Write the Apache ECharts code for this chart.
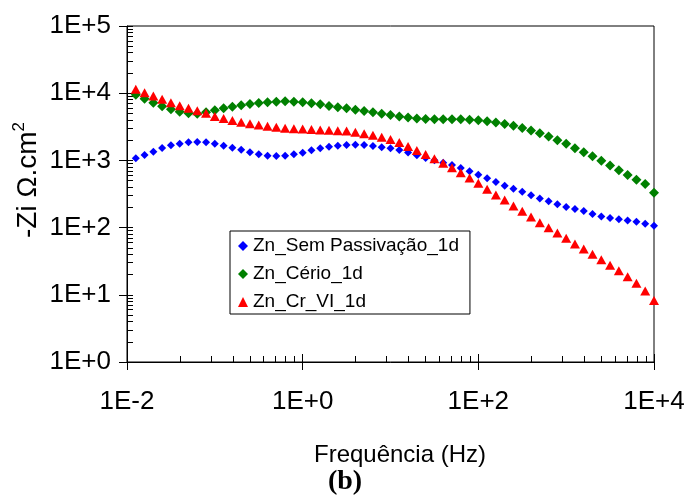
<!DOCTYPE html>
<html>
<head>
<meta charset="utf-8">
<script src="https://cdn.jsdelivr.net/npm/echarts@6/dist/echarts.min.js"></script>
<style>html,body{margin:0;padding:0;background:#fff}#c{width:688px;height:496px}</style>
</head>
<body>
<div id="c"></div>
<script>
const freq = [0.01259,0.01585,0.01995,0.02512,0.03162,0.03981,0.05012,0.0631,0.07943,
  0.1,0.1259,0.1585,0.1995,0.2512,0.3162,0.3981,0.5012,0.631,0.7943,
  1,1.259,1.585,1.995,2.512,3.162,3.981,5.012,6.31,7.943,
  10,12.59,15.85,19.95,25.12,31.62,39.81,50.12,63.1,79.43,
  100,125.9,158.5,199.5,251.2,316.2,398.1,501.2,631,794.3,
  1000,1259,1585,1995,2512,3162,3981,5012,6310,7943,10000];
const semPassivacao = [1074,1203,1348,1530,1678,1773,1859,1878,1859,1773,
  1655,1545,1443,1320,1233,1175,1163,1175,1233,1302,
  1414,1514,1599,1655,1695,1713,1695,1638,1566,1514,
  1428,1311,1191,1086,1003,924,854,771,688,611,
  542,477,420,378,342,302,271,246,222,203,
  189,177,159,146,139,133,128,122,114,107];
const cerio = [9500,8284,7222,6386,5761,5305,5022,4953,5197,5566,
  5961,6298,6606,6908,7150,7323,7475,7578,7475,7323,
  7076,6837,6450,6170,5961,5682,5434,5197,4953,4738,
  4501,4349,4202,4131,4089,4089,4089,4089,4033,3964,
  3831,3664,3480,3272,3034,2786,2540,2268,1998,1766,
  1519,1320,1151,986,840,712,606,516,446,331];
const crVI = [11430,10170,9085,8115,7222,6516,5961,5491,5022,4501,
  4202,3925,3703,3516,3363,3228,3108,3014,2963,2933,
  2883,2834,2805,2767,2738,2619,2497,2363,2207,2047,
  1847,1610,1404,1224,1056,905,776,656,547,458,
  373,306,257,210,175,144,118,99.7,83.1,69.3,
  57.0,48.0,40.1,33.3,27.5,22.8,18.6,14.8,11.4,8.23];
const seriesNames = ['Zn_Sem Passivação_1d','Zn_Cério_1d','Zn_Cr_VI_1d'];
const xTickValues = [0.01,1,100,10000];
const xTickLabels = ['1E-2','1E+0','1E+2','1E+4'];
const xMinorTicks = [0.04,0.09,0.16,0.25,0.36,0.49,0.64,0.81,
  4,9,16,25,36,49,64,81,400,900,1600,2500,3600,4900,6400,8100];
const yTickValues = [1,10,100,1000,10000,100000];
const yTickLabels = ['1E+0','1E+1','1E+2','1E+3','1E+4','1E+5'];
const yMinorTicks = [2,3,4,5,6,7,8,9,20,30,40,50,60,70,80,90,
  200,300,400,500,600,700,800,900,2000,3000,4000,5000,6000,7000,8000,9000,
  20000,30000,40000,50000,60000,70000,80000,90000];

const FONT = 'Liberation Sans, Arial, sans-serif';
function lookup(vals, labels) {
  return function (v) {
    for (let i = 0; i < vals.length; i++) {
      if (Math.abs(vals[i] - v) / vals[i] < 1e-6) return labels[i];
    }
    return '';
  };
}
function xAx(o) {
  return Object.assign({
    type: 'log', logBase: 10, min: 0.01, max: 10000, position: 'bottom', gridIndex: 0,
    axisLine: {show: false}, axisLabel: {show: false}, splitLine: {show: false},
    minorTick: {show: false}, minorSplitLine: {show: false}
  }, o);
}
function yAx(o) {
  return Object.assign({
    type: 'log', logBase: 10, min: 1, max: 100000, position: 'left', gridIndex: 0,
    axisLine: {show: false}, axisLabel: {show: false}, splitLine: {show: false},
    minorTick: {show: false}, minorSplitLine: {show: false}
  }, o);
}
const tickLine = {color: '#000', width: 1};
const chart = echarts.init(document.getElementById('c'), null, {renderer: 'canvas'});
const mk = (arr) => freq.map((f, i) => [f, arr[i]]);
chart.setOption({
  animation: false,
  backgroundColor: '#fff',
  grid: {left: 127, right: 34, top: 26, bottom: 134, show: true, borderColor: '#000', borderWidth: 1, containLabel: false, outerBoundsMode: 'none'},
  xAxis: [
    xAx({axisLine: {show: true, lineStyle: {color: '#000', width: 1}},
      axisTick: {show: true, inside: false, length: 8, lineStyle: tickLine, customValues: xTickValues},
      axisLabel: {show: true, customValues: xTickValues, formatter: lookup(xTickValues, xTickLabels),
        color: '#000', fontSize: 26, fontFamily: FONT, margin: 27}}),
    xAx({axisTick: {show: true, inside: true, length: 8, lineStyle: tickLine, customValues: xTickValues}}),
    xAx({axisTick: {show: true, inside: true, length: 6, lineStyle: tickLine, customValues: xMinorTicks}})
  ],
  yAxis: [
    yAx({axisLine: {show: true, lineStyle: {color: '#000', width: 1}},
      axisTick: {show: true, inside: false, length: 8, lineStyle: tickLine, customValues: yTickValues},
      axisLabel: {show: true, customValues: yTickValues, formatter: lookup(yTickValues, yTickLabels),
        color: '#000', fontSize: 26, fontFamily: FONT, margin: 16}}),
    yAx({axisTick: {show: true, inside: true, length: 6, lineStyle: tickLine, customValues: yTickValues}}),
    yAx({axisTick: {show: true, inside: true, length: 6, lineStyle: tickLine, customValues: yMinorTicks}})
  ],
  legend: {
    orient: 'vertical', left: 230, top: 231,
    padding: [5, 11, 2, 8], itemGap: 8, itemWidth: 10, itemHeight: 10,
    borderColor: '#000', borderWidth: 1, backgroundColor: '#fff', borderRadius: 0,
    textStyle: {fontSize: 19, fontFamily: FONT, color: '#000', lineHeight: 20},
    data: seriesNames
  },
  series: [
    {name: seriesNames[0], type: 'scatter', data: mk(semPassivacao), symbol: 'diamond', symbolSize: 8,
      itemStyle: {color: '#0000FF', opacity: 1}},
    {name: seriesNames[1], type: 'scatter', data: mk(cerio), symbol: 'diamond', symbolSize: 10,
      itemStyle: {color: '#008000', opacity: 1}},
    {name: seriesNames[2], type: 'scatter', data: mk(crVI), symbol: 'triangle', symbolSize: [10, 9],
      itemStyle: {color: '#FF0000', opacity: 1}}
  ],
  graphic: [
    {type: 'text', x: 28, y: 180, rotation: Math.PI / 2,
      style: {text: '{a|-Zi Ω.cm}{s|2}', align: 'center', verticalAlign: 'middle',
        rich: {a: {fontSize: 28, fontFamily: FONT, fill: '#000', lineHeight: 34},
               s: {fontSize: 17, fontFamily: FONT, fill: '#000', lineHeight: 34, verticalAlign: 'top'}}}},
    {type: 'text', x: 400, y: 455,
      style: {text: 'Frequência (Hz)', align: 'center', verticalAlign: 'middle', fontSize: 24, fontFamily: FONT, fill: '#000'}},
    {type: 'text', x: 345, y: 482,
      style: {text: '(b)', align: 'center', verticalAlign: 'middle', fontSize: 28, fontWeight: 'bold', fontFamily: 'Liberation Serif, Times New Roman, serif', fill: '#000'}}
  ]
});
</script>
</body>
</html>
